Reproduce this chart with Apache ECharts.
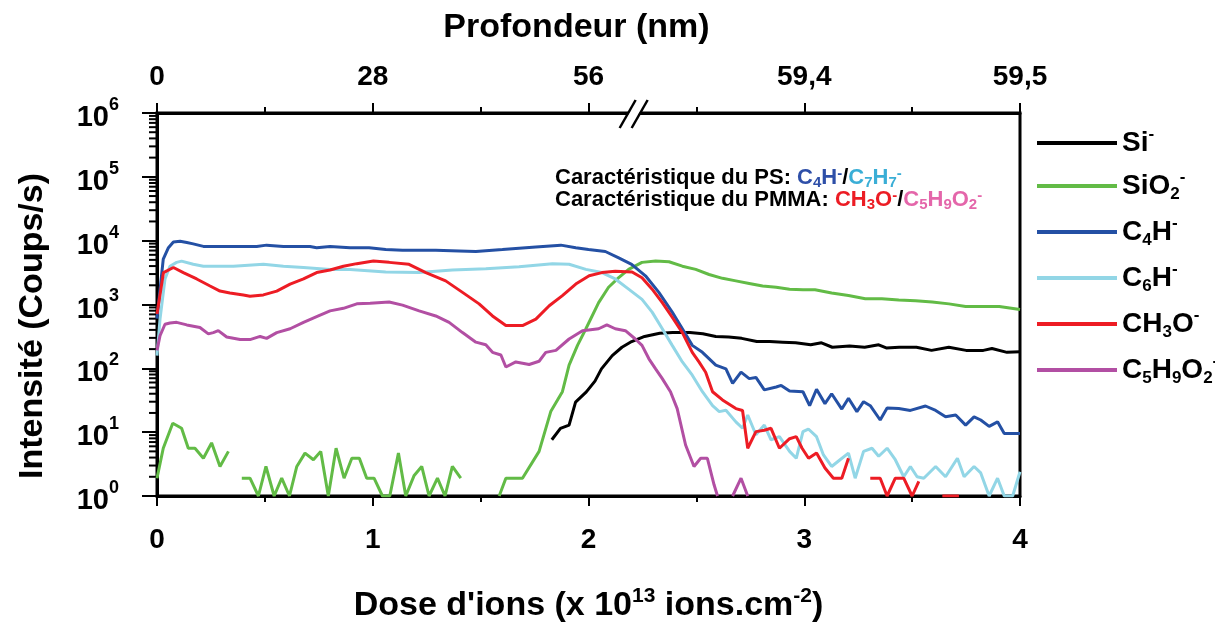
<!DOCTYPE html>
<html>
<head>
<meta charset="utf-8">
<title>Profondeur</title>
<script src="https://cdn.jsdelivr.net/npm/echarts@6/dist/echarts.min.js"></script>
<style>
    html, body { margin: 0; padding: 0; background: #fff; }
    #chart { width: 1215px; height: 628px; }
</style>
</head>
<body>
<div id="chart"></div>
<script type="text/javascript">
    // valeurs : [dose (x1e13 ions/cm2), intensite (coups/s)], null = pas de signal
    var siData = [[1.83, 7.6], [1.87, 11.5], [1.91, 12.9], [1.94, 29.5], [1.99, 42.7], [2.03, 63], [2.06, 98],
        [2.11, 158], [2.155, 214], [2.20, 263], [2.26, 316], [2.33, 355], [2.39, 363], [2.47, 363], [2.53, 347],
        [2.59, 316], [2.65, 309], [2.71, 295], [2.78, 263], [2.84, 263], [2.90, 257], [2.96, 251], [3.03, 234],
        [3.08, 251], [3.13, 214], [3.21, 224], [3.28, 214], [3.345, 234], [3.38, 209], [3.44, 214], [3.52, 214],
        [3.59, 191], [3.67, 214], [3.75, 191], [3.83, 191], [3.87, 204], [3.94, 178], [4.00, 182]];

    var sio2Data = [[0, 1.9], [0.029, 5.6], [0.073, 13.8], [0.114, 11.5], [0.145, 5.6], [0.176, 5.6], [0.215, 3.9],
        [0.253, 6.8], [0.292, 2.9], [0.331, 5.0], [0.36, null],
        [0.393, 1.9], [0.431, 1.9], [0.47, 1], [0.505, 2.9], [0.543, 1], [0.578, 1.9], [0.614, 1], [0.648, 2.9],
        [0.686, 4.7], [0.725, 3.7], [0.759, 5.0], [0.794, 1], [0.83, 5.6], [0.867, 1.9], [0.903, 3.9], [0.938, 3.9],
        [0.972, 1.9], [1.006, 1.9], [1.045, 1], [1.079, 1], [1.119, 4.7], [1.153, 1], [1.192, 2.1], [1.227, 2.9],
        [1.261, 1], [1.30, 1.9], [1.335, 1], [1.369, 2.9], [1.408, 1.9], [1.5, null],
        [1.586, 1], [1.617, 1.9], [1.694, 1.9], [1.771, 5.0], [1.825, 21], [1.879, 43], [1.91, 112], [1.949, 229],
        [1.988, 417], [2.047, 1072], [2.093, 1862], [2.14, 2630], [2.186, 3548], [2.248, 4571], [2.311, 4786],
        [2.373, 4677], [2.435, 3981], [2.497, 3548], [2.559, 2951], [2.621, 2570], [2.683, 2344], [2.745, 2138],
        [2.807, 1950], [2.87, 1862], [2.932, 1738], [2.994, 1698], [3.05, 1698], [3.127, 1514], [3.205, 1380],
        [3.283, 1230], [3.36, 1230], [3.438, 1175], [3.516, 1148], [3.593, 1096], [3.671, 1023], [3.748, 933],
        [3.826, 933], [3.904, 933], [4.0, 832]];

    var c4hData = [[0, 600], [0.029, 5129], [0.053, 7762], [0.076, 9550], [0.107, 9772], [0.138, 9333], [0.168, 8913],
        [0.215, 8128], [0.30, 8128], [0.40, 8128], [0.462, 8128], [0.508, 8511], [0.586, 8128], [0.709, 8128],
        [0.740, 7762], [0.802, 8128], [0.895, 7762], [0.983, 7762], [1.06, 7244], [1.138, 7079], [1.292, 7079],
        [1.40, 6918], [1.478, 6761], [1.601, 7244], [1.756, 7943], [1.872, 8511], [1.941, 7762], [2.0, 7244],
        [2.078, 6761], [2.14, 5370], [2.20, 4266], [2.264, 2818], [2.326, 1549], [2.388, 759], [2.435, 417],
        [2.481, 229], [2.528, 178], [2.59, 112], [2.637, 98], [2.668, 58], [2.707, 87], [2.745, 69], [2.776, 72],
        [2.815, 46], [2.87, 51], [2.893, 54], [2.932, 44], [2.994, 43], [3.025, 26], [3.057, 47], [3.096, 28],
        [3.127, 40], [3.174, 23], [3.205, 34], [3.244, 21], [3.275, 30], [3.306, 26], [3.352, 15.5], [3.384, 24],
        [3.438, 23.4], [3.492, 21.9], [3.562, 25.7], [3.609, 21.9], [3.655, 17.4], [3.702, 18.6], [3.748, 12.9],
        [3.787, 17.4], [3.818, 15.5], [3.857, 12.3], [3.896, 14.5], [3.927, 9.5], [4.0, 9.5]];

    var c6hData = [[0, 158], [0.014, 589], [0.037, 2512], [0.06, 3981], [0.091, 4571], [0.114, 4786], [0.168, 4266],
        [0.215, 3981], [0.354, 3981], [0.493, 4266], [0.586, 3981], [0.679, 3802], [0.802, 3548], [0.895, 3548],
        [1.06, 3236], [1.215, 3162], [1.369, 3467], [1.524, 3631], [1.678, 3890], [1.833, 4365], [1.91, 4266],
        [1.988, 3548], [2.062, 3162], [2.124, 2512], [2.186, 1738], [2.248, 1202], [2.295, 759], [2.342, 417],
        [2.388, 229], [2.435, 126], [2.481, 78], [2.528, 43], [2.575, 26], [2.606, 21], [2.637, 22], [2.683, 14.5],
        [2.714, 11.5], [2.738, 18.6], [2.776, 9.1], [2.815, 12.9], [2.846, 7.6], [2.885, 8.5], [2.932, 5.0],
        [2.963, 3.9], [2.994, 10.2], [3.019, 11.2], [3.057, 8.5], [3.089, 4.4], [3.127, 2.9], [3.166, 3.7],
        [3.205, 4.7], [3.236, 1.9], [3.275, 5.0], [3.314, 5.6], [3.345, 4.2], [3.384, 5.6], [3.422, 3.7],
        [3.461, 2.0], [3.492, 2.9], [3.523, 2.0], [3.554, 1.9], [3.609, 2.9], [3.655, 2.0], [3.71, 3.9],
        [3.741, 2.0], [3.787, 2.9], [3.818, 2.3], [3.857, 1.0], [3.896, 1.9], [3.927, 1], [3.966, 1], [4.0, 2.4]];

    var ch3oData = [[0, 708], [0.03, 3162], [0.076, 3802], [0.122, 3162], [0.184, 2512], [0.246, 1950], [0.292, 1622],
        [0.338, 1514], [0.40, 1413], [0.431, 1349], [0.493, 1413], [0.555, 1622], [0.617, 2089], [0.679, 2512],
        [0.74, 3162], [0.802, 3467], [0.864, 3981], [0.926, 4365], [1.003, 4786], [1.076, 4571], [1.168, 4266],
        [1.246, 3162], [1.338, 2344], [1.416, 1549], [1.493, 1023], [1.555, 661], [1.617, 468], [1.694, 468],
        [1.756, 589], [1.818, 955], [1.879, 1380], [1.941, 2089], [2.003, 2818], [2.062, 3162], [2.124, 3311],
        [2.202, 3236], [2.248, 2630], [2.295, 1738], [2.342, 1072], [2.388, 631], [2.435, 363], [2.481, 178],
        [2.512, 126], [2.543, 87], [2.575, 43], [2.621, 32], [2.683, 23.4], [2.714, 21.9], [2.738, 5.6],
        [2.776, 10.2], [2.815, 10.7], [2.846, 11.5], [2.885, 5.6], [2.932, 7.9], [2.963, 8.5], [2.99, 5.6],
        [3.02, 3.9], [3.057, 4.7], [3.096, 2.75], [3.135, 1.9], [3.174, 1.9], [3.205, 3.9], [3.25, null],
        [3.306, 1.9], [3.352, 1.9], [3.384, 1], [3.422, 1.9], [3.461, 1.9], [3.50, 1], [3.531, 1.7], [3.58, null],
        [3.64, 1], [3.717, 1]];

    var c5h9o2Data = [[0, 191], [0.014, 324], [0.037, 490], [0.06, 513], [0.091, 525], [0.138, 479], [0.199, 437],
        [0.238, 347], [0.261, 363], [0.284, 389], [0.323, 309], [0.385, 282], [0.431, 282], [0.478, 316],
        [0.508, 295], [0.555, 363], [0.617, 417], [0.679, 525], [0.74, 646], [0.802, 794], [0.864, 871],
        [0.926, 1023], [0.988, 1047], [1.076, 1096], [1.138, 977], [1.215, 794], [1.292, 661], [1.354, 525],
        [1.416, 363], [1.478, 257], [1.524, 234], [1.555, 178], [1.594, 162], [1.617, 105], [1.663, 126],
        [1.725, 115], [1.771, 129], [1.802, 178], [1.849, 191], [1.91, 288], [1.972, 389], [2.047, 417],
        [2.085, 479], [2.124, 417], [2.171, 389], [2.217, 288], [2.248, 229], [2.28, 141], [2.311, 98], [2.342, 69],
        [2.38, 43], [2.411, 23.4], [2.45, 6.3], [2.489, 2.9], [2.52, 3.9], [2.551, 3.9], [2.582, 1.5], [2.598, 1],
        [2.63, null], [2.668, 1], [2.707, 1.9], [2.738, 1]];

    var seriesNames = ['Si-', 'SiO2-', 'C4H-', 'C6H-', 'CH3O-', 'C5H9O2-'];
    var seriesColors = ['#000000', '#62bb46', '#2450a4', '#92d6e6', '#ed1c24', '#b24fa3'];
    var seriesData = [siData, sio2Data, c4hData, c6hData, ch3oData, c5h9o2Data];
    var legendLabels = {
        'Si-': '{m|Si}{p|-}',
        'SiO2-': '{m|SiO}{b|2}{p|-}',
        'C4H-': '{m|C}{b|4}{m|H}{p|-}',
        'C6H-': '{m|C}{b|6}{m|H}{p|-}',
        'CH3O-': '{m|CH}{b|3}{m|O}{p|-}',
        'C5H9O2-': '{m|C}{b|5}{m|H}{b|9}{m|O}{b|2}{p|-}'
    };

    var xTicks = [0, 1, 2, 3, 4];
    var topLabels = ['0', '28', '56', '59,4', '59,5'];
    var breakAt = 2.2;

    var arial = "'Liberation Sans', Arial, sans-serif";
    var narrow = "'Liberation Sans Narrow', 'Arial Narrow', 'Liberation Sans', sans-serif";

    // graduations secondaires de l'axe log (2..9 x 10^n)
    var yMinor = [];
    for (var d = 1; d < 1e6; d *= 10) {
        for (var k = 2; k < 10; k++) yMinor.push([0, k * d]);
    }

    // styles riches du texte d'annotation (zrender : fill, pas color)
    function styleTrio(color, size) {
        return {
            m: { fill: color, fontSize: size, fontWeight: 'bold', fontFamily: arial, lineHeight: 24 },
            s: { fill: color, fontSize: Math.round(size * 0.68), fontWeight: 'bold', fontFamily: arial, verticalAlign: 'bottom', lineHeight: 12 },
            p: { fill: color, fontSize: Math.round(size * 0.68), fontWeight: 'bold', fontFamily: arial, verticalAlign: 'top', lineHeight: 12 }
        };
    }
    var noteRich = {};
    [['k', '#000000'], ['bl', '#2e4fa8'], ['cy', '#3aaed6'], ['rd', '#ec1c24'], ['pk', '#e466aa']].forEach(function (c) {
        var t = styleTrio(c[1], 22);
        noteRich[c[0]] = t.m;
        noteRich[c[0] + 's'] = t.s;
        noteRich[c[0] + 'p'] = t.p;
    });

    var myChart = echarts.init(document.getElementById('chart'));

    var series = seriesNames.map(function (name, i) {
        return {
            name: name,
            type: 'line',
            xAxisIndex: 0,
            yAxisIndex: 0,
            symbol: 'none',
            showSymbol: false,
            connectNulls: false,
            animation: false,
            lineStyle: { color: seriesColors[i], width: 3 },
            itemStyle: { color: seriesColors[i] },
            data: seriesData[i].map(function (p) { return [p[0], p[1] == null ? '-' : p[1]]; })
        };
    });
    series.push({
        name: 'minor',
        type: 'custom',
        xAxisIndex: 0,
        yAxisIndex: 0,
        silent: true,
        clip: false,
        animation: false,
        data: yMinor,
        renderItem: function (params, api) {
            var p = api.coord([0, api.value(1)]);
            return {
                type: 'line',
                shape: { x1: p[0] - 8, y1: p[1], x2: p[0] - 1, y2: p[1] },
                style: { stroke: '#000', lineWidth: 2 }
            };
        }
    });

    var option = {
        backgroundColor: '#fff',
        animation: false,
        grid: {
            left: 157, right: 195, top: 113, bottom: 130,
            show: true, borderColor: '#000', borderWidth: 3, backgroundColor: 'transparent'
        },
        legend: {
            data: seriesNames,
            orient: 'vertical',
            left: 1032,
            top: 121,
            icon: 'rect',
            itemWidth: 80,
            itemHeight: 4,
            itemGap: 12,
            selectedMode: false,
            formatter: function (name) { return legendLabels[name]; },
            textStyle: {
                rich: {
                    m: { fontSize: 28, fontWeight: 'bold', fontFamily: arial, color: '#000', lineHeight: 34 },
                    b: { fontSize: 17, fontWeight: 'bold', fontFamily: arial, color: '#000', verticalAlign: 'bottom', lineHeight: 12 },
                    p: { fontSize: 17, fontWeight: 'bold', fontFamily: arial, color: '#000', verticalAlign: 'top', lineHeight: 14 }
                }
            }
        },
        xAxis: [
            {
                type: 'value',
                position: 'bottom',
                min: 0, max: 4, interval: 1,
                axisLine: { onZero: false, lineStyle: { color: '#000', width: 3 } },
                axisTick: { length: 10, lineStyle: { color: '#000', width: 2 } },
                minorTick: { show: true, splitNumber: 2, length: 6, lineStyle: { color: '#000', width: 2 } },
                splitLine: { show: false },
                axisLabel: {
                    margin: 30, color: '#000', fontSize: 28, fontWeight: 'bold', fontFamily: narrow,
                    formatter: function (v) { return xTicks.indexOf(v) >= 0 ? String(v) : ''; }
                },
                name: "{t|Dose d'ions (x 10}{e|13}{t| ions.cm}{e|-2}{t|)}",
                nameLocation: 'middle',
                nameGap: 90,
                nameTextStyle: {
                    rich: {
                        t: { fontSize: 34, fontWeight: 'bold', fontFamily: arial, color: '#000', lineHeight: 40 },
                        e: { fontSize: 21, fontWeight: 'bold', fontFamily: arial, color: '#000', verticalAlign: 'top', lineHeight: 20 }
                    }
                }
            },
            {
                type: 'value',
                position: 'top',
                min: 0, max: 4, interval: 1,
                axisLine: { onZero: false, lineStyle: { color: '#000', width: 3 } },
                axisTick: { length: 10, lineStyle: { color: '#000', width: 2 } },
                minorTick: { show: true, splitNumber: 2, length: 6, lineStyle: { color: '#000', width: 2 } },
                splitLine: { show: false },
                axisLabel: {
                    margin: 22, color: '#000', fontSize: 28, fontWeight: 'bold', fontFamily: narrow,
                    formatter: function (v) { return topLabels[Math.round(v)]; }
                },
                name: 'Profondeur (nm)',
                nameLocation: 'middle',
                nameGap: 68,
                nameTextStyle: { fontSize: 34, fontWeight: 'bold', fontFamily: arial, color: '#000', padding: [0, 24, 0, 0] }
            }
        ],
        yAxis: [
            {
                type: 'log',
                logBase: 10,
                min: 1, max: 1000000,
                axisLine: { lineStyle: { color: '#000', width: 3 } },
                axisTick: { length: 15, lineStyle: { color: '#000', width: 2 } },
                splitLine: { show: false },
                axisLabel: {
                    margin: 38,
                    formatter: function (v) { return '{n|10}{e|' + Math.round(Math.log10(v)) + '}'; },
                    rich: {
                        n: { fontSize: 29, fontWeight: 'bold', fontFamily: narrow, color: '#000', lineHeight: 34, padding: [10, 0, 0, 0] },
                        e: { fontSize: 18, fontWeight: 'bold', fontFamily: narrow, color: '#000', verticalAlign: 'top', lineHeight: 18 }
                    }
                }
            }
        ],
        graphic: [
            {
                id: 'notePS', type: 'text', left: 555, top: 166, z: 10,
                style: {
                    text: '{k|Caractéristique du PS: }{bl|C}{bls|4}{bl|H}{blp|-}{k|/}{cy|C}{cys|7}{cy|H}{cys|7}{cyp|-}',
                    rich: noteRich
                }
            },
            {
                id: 'notePMMA', type: 'text', left: 555, top: 188, z: 10,
                style: {
                    text: '{k|Caractéristique du PMMA: }{rd|CH}{rds|3}{rd|O}{rdp|-}{k|/}{pk|C}{pks|5}{pk|H}{pks|9}{pk|O}{pks|2}{pkp|-}',
                    rich: noteRich
                }
            },
            {
                id: 'yTitle', type: 'text', x: 33, y: 326, rotation: Math.PI / 2,
                style: {
                    text: 'Intensité (Coups/s)', fill: '#000',
                    font: "bold 34px 'Liberation Sans', Arial, sans-serif",
                    textAlign: 'center', textVerticalAlign: 'middle'
                }
            }
        ],
        series: series
    };

    myChart.setOption(option);

    // coupure de l'axe du haut
    var bx = myChart.convertToPixel({ xAxisIndex: 1 }, breakAt);
    var slope = 16 / 28;
    function lx(y, off) { return bx - 12 + off + (128 - y) * slope; }
    myChart.setOption({
        graphic: [
            {
                id: 'breakMask', type: 'polygon', z: 20,
                shape: { points: [[lx(119, 1), 119], [lx(119, 11), 119], [lx(107, 11), 107], [lx(107, 1), 107]] },
                style: { fill: '#fff' }
            },
            { id: 'break1', type: 'line', z: 21, shape: { x1: lx(128, 0), y1: 128, x2: lx(100, 0), y2: 100 }, style: { stroke: '#000', lineWidth: 2.5 } },
            { id: 'break2', type: 'line', z: 21, shape: { x1: lx(128, 12), y1: 128, x2: lx(100, 12), y2: 100 }, style: { stroke: '#000', lineWidth: 2.5 } }
        ]
    });
</script>
</body>
</html>
